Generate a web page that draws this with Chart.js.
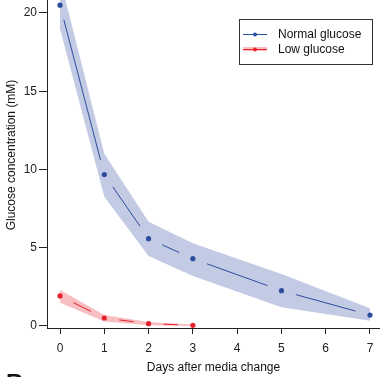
<!DOCTYPE html>
<html>
<head>
<meta charset="utf-8">
<script src="https://cdn.jsdelivr.net/npm/chart.js@4"></script>
<style>
  html, body { margin: 0; padding: 0; background: #fff; }
  #wrap { width: 380px; height: 377px; position: relative; }
</style>
</head>
<body>
<div id="wrap"><canvas id="glucoseChart"></canvas></div>
<script>
// Glucose depletion after media change
const normalDays = [0, 1, 2, 3, 5, 7];
const normalMean = [20.5, 9.68, 5.58, 4.3, 2.26, 0.7];
const normalHigh = [22.2, 11.0, 6.66, 5.28, 3.32, 1.13];
const normalLow = [19.0, 8.26, 4.47, 3.19, 1.19, 0.34];

const lowDays = [0, 1, 2, 3];
const lowMean = [1.92, 0.51, 0.15, 0.04];
const lowHigh = [2.3, 0.7, 0.26, 0.09];
const lowLow = [1.49, 0.28, 0.05, 0.0];

const xTicks = [0, 1, 2, 3, 4, 5, 6, 7];
const yTicks = [0, 5, 10, 15, 20];

const colors = {
  blue: '#2c4c9e', blueBand: '#c3cbe4',
  red: '#e8222c', redBand: '#f7bfc2',
  axis: '#222'
};
const font = "'Liberation Sans', Arial, sans-serif";

const pts = (xs, ys) => xs.map((x, i) => ({ x, y: ys[i] }));

// Igor-style lines: segments between markers, with a gap at each end
const gappedLines = {
  id: 'gappedLines',
  afterDatasetsDraw(chart) {
    const ctx = chart.ctx;
    const xs = chart.scales.x, ys = chart.scales.y;
    const gap = 15;
    chart.data.datasets.forEach(ds => {
      if (!ds.gapLine) return;
      ctx.save();
      ctx.strokeStyle = ds.gapLine;
      ctx.lineWidth = 1;
      for (let i = 0; i < ds.data.length - 1; i++) {
        const x1 = xs.getPixelForValue(ds.data[i].x), y1 = ys.getPixelForValue(ds.data[i].y);
        const x2 = xs.getPixelForValue(ds.data[i + 1].x), y2 = ys.getPixelForValue(ds.data[i + 1].y);
        const d = Math.hypot(x2 - x1, y2 - y1);
        if (d <= gap * 2) continue;
        const ux = (x2 - x1) / d, uy = (y2 - y1) / d;
        ctx.beginPath();
        ctx.moveTo(x1 + ux * gap, y1 + uy * gap);
        ctx.lineTo(x2 - ux * gap, y2 - uy * gap);
        ctx.stroke();
      }
      ctx.restore();
    });
  }
};

// boxed legend inside the plot, y title, cropped panel letter
const boxLegend = {
  id: 'boxLegend',
  afterDraw(chart) {
    const ctx = chart.ctx;
    ctx.save();
    ctx.strokeStyle = '#333';
    ctx.lineWidth = 1;
    ctx.strokeRect(239.5, 19.5, 133, 45);
    const items = [
      { label: 'Normal glucose', color: colors.blue, band: null, y: 34 },
      { label: 'Low glucose', color: colors.red, band: colors.redBand, y: 49 }
    ];
    items.forEach(it => {
      if (it.band) {
        ctx.strokeStyle = it.band;
        ctx.lineWidth = 4;
        ctx.beginPath(); ctx.moveTo(243, it.y); ctx.lineTo(267, it.y); ctx.stroke();
      }
      ctx.strokeStyle = it.color;
      ctx.lineWidth = 1;
      ctx.beginPath(); ctx.moveTo(243, it.y + 0.5); ctx.lineTo(267, it.y + 0.5); ctx.stroke();
      ctx.fillStyle = it.color;
      ctx.beginPath(); ctx.arc(255, it.y + 0.5, 2, 0, Math.PI * 2); ctx.fill();
      ctx.fillStyle = '#111';
      ctx.font = '12px ' + font;
      ctx.textBaseline = 'middle';
      ctx.fillText(it.label, 278, it.y + 0.5);
    });

    // y axis title (sits a bit above the plot's middle in the original)
    ctx.save();
    ctx.translate(12, 155);
    ctx.rotate(-Math.PI / 2);
    ctx.textAlign = 'center';
    ctx.textBaseline = 'middle';
    ctx.font = '12px ' + font;
    ctx.fillStyle = '#111';
    ctx.fillText('Glucose concentration (mM)', 0, 0);
    ctx.restore();

    ctx.fillStyle = '#111';
    ctx.font = 'bold 24px ' + font;
    ctx.textBaseline = 'alphabetic';
    ctx.fillText('B', 6, 391);
    ctx.restore();
  }
};

const noPad = s => { s.paddingTop = 0; s.paddingBottom = 0; s.paddingLeft = 0; s.paddingRight = 0; };
const tickOpts = { color: colors.axis, font: { family: font, size: 12 } };

new Chart(document.getElementById('glucoseChart'), {
  type: 'scatter',
  data: {
    datasets: [
      { data: pts(normalDays, normalHigh), fill: '+1', backgroundColor: colors.blueBand, order: 2,
        showLine: true, borderWidth: 0, pointRadius: 0, tension: 0 },
      { data: pts(normalDays, normalLow), fill: false, showLine: true, borderWidth: 0, pointRadius: 0, order: 2 },
      { data: pts(lowDays, lowHigh), fill: '+1', backgroundColor: colors.redBand, order: 2,
        showLine: true, borderWidth: 0, pointRadius: 0, tension: 0 },
      { data: pts(lowDays, lowLow), fill: false, showLine: true, borderWidth: 0, pointRadius: 0, order: 2 },
      { data: pts(normalDays, normalMean), gapLine: colors.blue, showLine: false, order: 0,
        pointRadius: 2.6, pointBackgroundColor: colors.blue, pointBorderWidth: 0 },
      { data: pts(lowDays, lowMean), gapLine: colors.red, showLine: false, order: 0,
        pointRadius: 2.6, pointBackgroundColor: colors.red, pointBorderWidth: 0 }
    ]
  },
  options: {
    responsive: true, maintainAspectRatio: false, animation: false,
    layout: { padding: 0, autoPadding: false },
    plugins: { legend: { display: false }, tooltip: { enabled: false } },
    scales: {
      x: {
        type: 'linear', min: -0.294, max: 7.226,
        afterBuildTicks: s => { s.ticks = xTicks.map(v => ({ value: v })); },
        afterFit: s => { s.height = 49; noPad(s); },
        grid: { drawOnChartArea: false, tickLength: 6, color: colors.axis },
        border: { color: colors.axis, width: 1 },
        ticks: Object.assign({ padding: 7 }, tickOpts),
        title: { display: true, text: 'Days after media change', color: '#111',
                 font: { family: font, size: 12 }, padding: { top: 0, bottom: 2 } }
      },
      y: {
        min: -0.128, max: 20.83,
        afterBuildTicks: s => { s.ticks = yTicks.map(v => ({ value: v })); },
        afterFit: s => { s.width = 47; noPad(s); },
        grid: { drawOnChartArea: false, tickLength: 8, color: colors.axis },
        border: { color: colors.axis, width: 1 },
        ticks: Object.assign({ padding: 2 }, tickOpts),
        title: { display: false }
      }
    }
  },
  plugins: [gappedLines, boxLegend]
});
</script>
</body>
</html>
